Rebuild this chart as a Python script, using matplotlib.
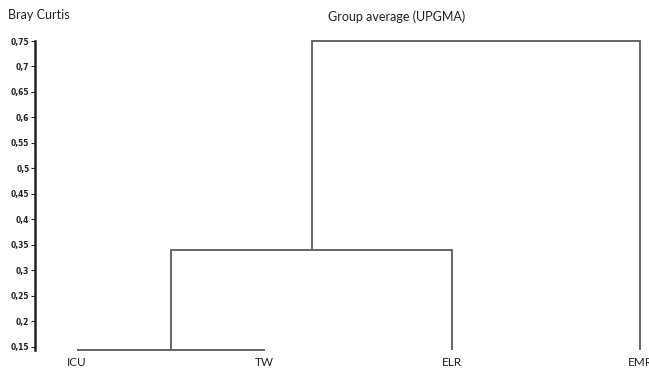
import matplotlib
matplotlib.use("Agg")
import matplotlib.pyplot as plt
from matplotlib.ticker import FuncFormatter

# Data
leaves = ["ICU", "TW", "ELR", "EMR"]
# merges: (left member, right member, height); members >= len(leaves) refer to earlier merges
merges = [(0, 1, 0.144), (4, 2, 0.34), (5, 3, 0.75)]
leaf_base = 0.144
yticks = [0.15, 0.2, 0.25, 0.3, 0.35, 0.4, 0.45, 0.5, 0.55, 0.6, 0.65, 0.7, 0.75]

W, H = 649, 369
fig = plt.figure(figsize=(W / 100, H / 100), dpi=100)
ax = fig.add_axes([35 / W, (H - 350) / H, (649 - 35) / W, (350 - 41) / H])

pos = {i: (float(i), leaf_base) for i in range(len(leaves))}
lc = "#5a5a5a"
for k, (a, b, h) in enumerate(merges):
    xa, ya = pos[a]
    xb, yb = pos[b]
    ax.plot([xa, xa, xb, xb], [ya, h, h, yb], color=lc, lw=1.3, solid_capstyle="butt",
            solid_joinstyle="miter", clip_on=False)
    pos[len(leaves) + k] = ((xa + xb) / 2, h)

ax.set_xlim(-42 / 188, 3 + 9 / 188)
ax.set_ylim(leaf_base, 0.75)

for s in ["top", "right", "bottom"]:
    ax.spines[s].set_visible(False)
ax.spines["left"].set_linewidth(1.8)
ax.spines["left"].set_color("#222222")

ax.set_xticks([])
ax.set_yticks(yticks)
ax.yaxis.set_major_formatter(FuncFormatter(lambda v, p: ("%g" % round(v, 2)).replace(".", ",")))
ax.tick_params(axis="y", length=3, width=0.8, labelsize=5.5, pad=1, colors="#222222")
for t in ax.get_yticklabels():
    t.set_family("Liberation Sans Narrow")
    t.set_fontweight("bold")

for i, name in enumerate(leaves):
    ax.text(i, -0.04, name, transform=ax.get_xaxis_transform(), ha="center", va="center",
            fontsize=8.5, family="Lato", color="#222222", clip_on=False)

fig.text(8 / W, 1 - 15 / H, "Bray Curtis", ha="left", va="center", fontsize=9,
         family="Lato", color="#222222")
fig.text(397 / W, 1 - 17 / H, "Group average (UPGMA)", ha="center", va="center", fontsize=9,
         family="Lato", color="#222222")

fig.savefig("out.png", dpi=100)
